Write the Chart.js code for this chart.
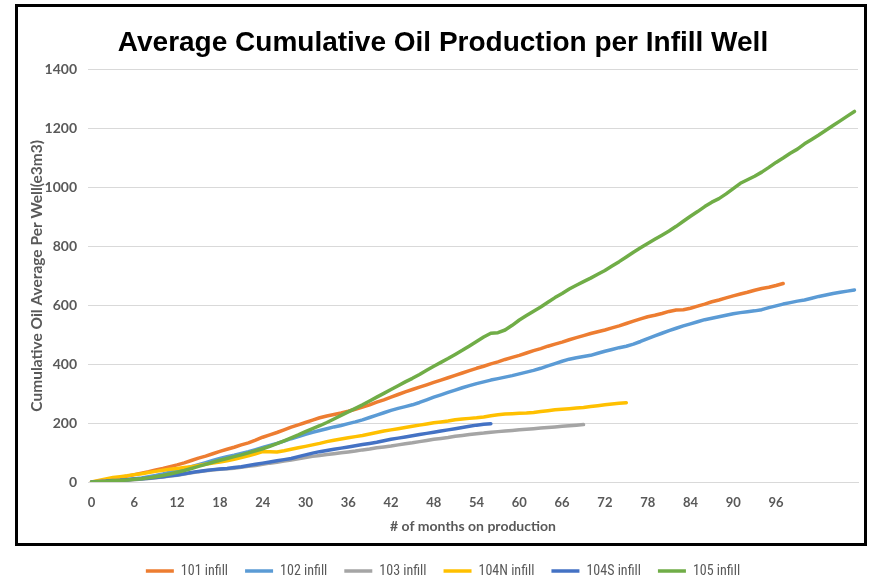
<!DOCTYPE html>
<html>
<head>
<meta charset="utf-8">
<script src="https://cdn.jsdelivr.net/npm/chart.js@4/dist/chart.umd.min.js"></script>
<style>
  html, body { margin: 0; padding: 0; background: #ffffff; overflow: hidden; }
  #wrap { position: relative; width: 869px; height: 576px; overflow: hidden; }
  #frame { position: absolute; left: 15px; top: 4px; width: 846px; height: 536px; border: 3px solid #000; pointer-events: none; }
  #c { position: absolute; left: 0; top: 0; }
</style>
</head>
<body>
<div id="wrap">
  <div id="frame"></div>
  <canvas id="c" width="869" height="588"></canvas>
</div>
<script>
// Average cumulative oil per well (e3m3), one value per month on production, index = month
const seriesNames = ['101 infill', '102 infill', '103 infill', '104N infill', '104S infill', '105 infill'];
const seriesColors = ['#ED7D31', '#5B9BD5', '#A5A5A5', '#FFC000', '#4472C4', '#70AD47'];

const infill101 = [0,3,6,10,15,20,25,30,35,41,46,52,58,65,73,81,88,96,104,111,118,126,133,142,152,160,168,177,186,194,
  202,210,218,224,229,234,240,247,254,262,271,279,288,297,306,314,322,330,338,346,354,362,370,378,386,393,401,408,416,423,
  430,438,446,453,461,468,475,483,490,497,504,510,516,523,530,538,546,554,561,566,572,579,584,585,590,597,604,612,618,625,
  632,638,644,651,657,661,667,674];

const infill102 = [0,1,2,4,6,8,11,14,18,22,27,33,39,45,52,59,66,73,80,86,91,97,103,110,117,124,131,139,147,154,
  162,169,175,181,187,192,198,204,211,219,227,235,243,250,256,262,270,279,288,296,304,312,320,327,334,340,346,351,356,361,
  367,373,379,386,394,402,410,417,422,426,430,437,444,450,456,461,468,477,487,496,505,514,522,530,537,544,551,556,561,566,
  571,575,578,581,585,592,598,604,609,614,618,624,630,635,640,644,648,652];

const infill103 = [0,1,2,3,4,6,8,10,12,14,17,20,23,27,31,35,38,41,43,45,47,50,53,56,60,64,67,71,75,79,
  83,87,90,93,96,99,102,105,109,112,116,119,122,126,130,133,137,141,145,148,151,155,158,161,164,166,169,171,173,175,
  177,179,181,183,185,187,189,191,193,195];

const infill104N = [0,5,10,15,18,21,25,28,32,36,40,43,46,49,52,56,60,64,68,72,77,83,89,96,103,103,102,106,111,116,
  121,126,131,137,142,146,150,154,158,163,168,173,177,181,185,189,193,197,201,204,207,211,214,216,218,221,225,228,231,232,
  233,234,236,239,242,245,247,249,251,253,256,259,262,265,267,269];

const infill104S = [0,2,3,5,6,8,10,11,13,15,18,21,24,28,32,36,39,42,44,46,49,52,56,60,64,68,72,76,80,86,
  92,98,103,107,111,115,119,123,127,131,135,140,145,149,153,157,161,165,169,173,177,181,185,189,193,196,198];

const infill105 = [0,1,2,4,5,7,9,11,14,18,22,27,33,39,46,53,60,67,74,80,86,92,99,106,113,121,130,140,150,160,
  171,181,191,202,214,226,238,250,262,275,288,301,314,327,340,352,365,379,393,406,419,433,447,462,477,492,505,507,516,532,
  550,565,580,594,610,626,640,655,668,680,692,705,718,733,748,764,780,795,810,824,838,852,868,885,902,918,935,950,962,978,
  996,1014,1026,1038,1052,1068,1085,1100,1116,1130,1148,1163,1178,1194,1210,1226,1242,1258];

const seriesValues = [infill101, infill102, infill103, infill104N, infill104S, infill105];

// Axis ticks
const monthTicks = [0, 6, 12, 18, 24, 30, 36, 42, 48, 54, 60, 66, 72, 78, 84, 90, 96];
const volumeTicks = [0, 200, 400, 600, 800, 1000, 1200, 1400];

const datasets = seriesValues.map((vals, i) => ({
  label: seriesNames[i],
  data: vals.map((v, m) => ({ x: m, y: v })),
  borderColor: seriesColors[i],
  backgroundColor: seriesColors[i],
  borderWidth: 3.5,
  borderCapStyle: 'round',
  borderJoinStyle: 'round',
  pointRadius: 0,
  pointHoverRadius: 0,
  tension: 0,
  fill: false,
  // later series sit on top of earlier ones
  order: seriesValues.length - i
}));

const tickColor = '#595959';
const gridColor = '#D9D9D9';

new Chart(document.getElementById('c'), {
  type: 'line',
  data: { datasets },
  options: {
    responsive: false,
    animation: false,
    layout: { padding: { left: 28, right: 11, top: 0, bottom: 0 } },
    plugins: {
      title: {
        display: true,
        text: 'Average Cumulative Oil Production per Infill Well',
        color: '#000000',
        font: { family: "'Liberation Sans', Arial, sans-serif", size: 28, weight: 'bold' },
        padding: { top: 26, bottom: 10 }
      },
      legend: {
        position: 'bottom',
        labels: {
          usePointStyle: true,
          pointStyle: 'line',
          pointStyleWidth: 28,
          padding: 17,
          color: tickColor,
          font: { family: "'Liberation Sans Narrow', 'Arial Narrow', 'Roboto Condensed', sans-serif", size: 14 },
          sort: (a, b) => a.datasetIndex - b.datasetIndex
        }
      },
      tooltip: { enabled: false }
    },
    scales: {
      x: {
        type: 'linear',
        min: -0.5,
        max: 107.5,
        afterBuildTicks: (scale) => { scale.ticks = monthTicks.map(v => ({ value: v })); },
        afterFit: (scale) => { scale.height = 65; },
        grid: { display: false, drawTicks: false },
        border: { display: true, color: gridColor, width: 1 },
        ticks: {
          color: tickColor,
          padding: 13,
          maxRotation: 0,
          autoSkip: false,
          callback: (v) => String(v),
          font: { family: 'Lato, sans-serif', size: 13, weight: 'bold' }
        },
        title: {
          display: true,
          text: '# of months on production',
          color: tickColor,
          font: { family: 'Lato, sans-serif', size: 14, weight: 'bold' },
          padding: { top: 0, bottom: 12 }
        }
      },
      y: {
        min: 0,
        max: 1400,
        afterBuildTicks: (scale) => { scale.ticks = volumeTicks.map(v => ({ value: v })); },
        afterFit: (scale) => { scale.width = 60; },
        grid: { color: gridColor, lineWidth: 1, drawTicks: false },
        border: { display: false },
        ticks: {
          color: tickColor,
          padding: 11,
          callback: (v) => String(v),
          font: { family: 'Lato, sans-serif', size: 14, weight: 'bold' }
        },
        title: {
          display: true,
          text: 'Cumulative Oil Average Per Well(e3m3)',
          color: tickColor,
          font: { family: 'Lato, sans-serif', size: 15.5, weight: 'bold' },
          padding: { top: 0, bottom: 0 }
        }
      }
    }
  }
});
</script>
</body>
</html>
